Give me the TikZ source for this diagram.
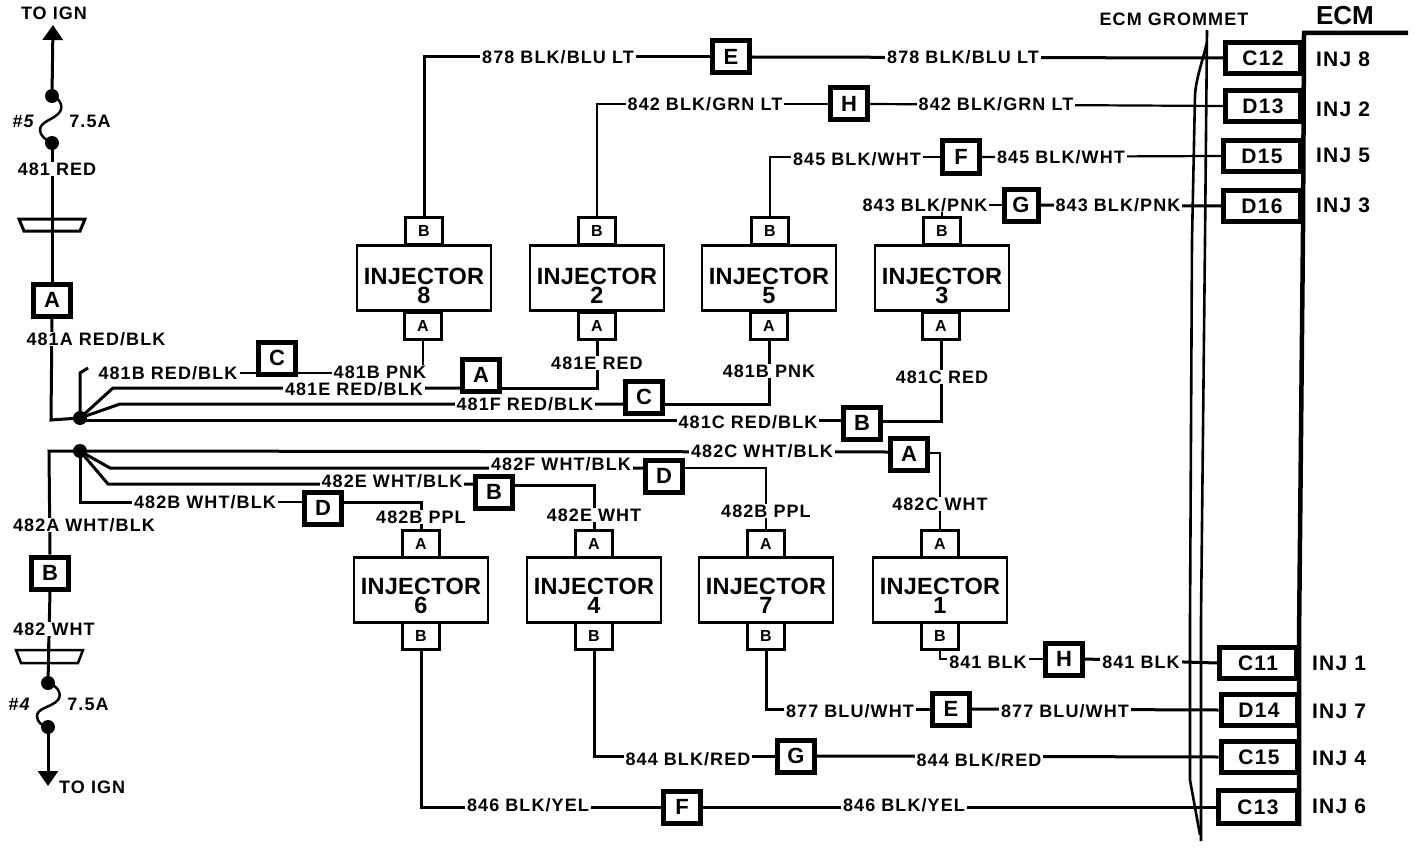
\documentclass[tikz,border=0pt]{standalone}
\usepackage{fontspec}
\usetikzlibrary{arrows.meta,backgrounds}
\newfontfamily\wfam[LetterSpace=6]{Liberation Sans}
\newfontfamily\ifam[LetterSpace=1]{Liberation Sans}
\newfontfamily\wplain{Liberation Sans}
\newcommand{\lblf}{\wfam\bfseries\fontsize{18}{19}\selectfont}
\newcommand{\tagf}{\wfam\bfseries\fontsize{22}{23}\selectfont}
\newcommand{\pinf}{\wfam\bfseries\fontsize{16}{17}\selectfont}
\newcommand{\ecmf}{\wfam\bfseries\fontsize{21}{22}\selectfont}
\newcommand{\injf}{\ifam\bfseries\fontsize{23.5}{24}\selectfont}
\tikzset{
 x=1pt,y=-1pt,
 wire/.style={line width=3pt,line join=miter},
 thinwire/.style={line width=2.2pt},
 lbl/.style={font=\lblf,fill=white,inner xsep=2pt,inner ysep=0.5pt,text height=13pt,text depth=0pt},
 plainlbl/.style={font=\lblf,inner sep=0pt,text height=13pt,text depth=0pt},
 tagbox/.style={draw,line width=5pt,fill=white,minimum width=37pt,minimum height=32pt,inner sep=0pt,font=\tagf},
 pinbox/.style={draw,line width=2.5pt,fill=white,minimum width=37pt,minimum height=27pt,inner sep=0pt,font=\pinf},
 injbox/.style={draw,line width=2.5pt,fill=white,minimum width=134pt,minimum height=65pt,inner sep=0pt},
 injtxt/.style={font=\injf,inner sep=0pt,text height=17pt,text depth=0pt},
 ecmbox/.style={draw,line width=5pt,fill=white,minimum width=75pt,minimum height=31pt,inner sep=0pt,font=\ecmf},
 hubdot/.style={circle,fill=black,minimum size=14pt,inner sep=0pt},
 fusedot/.style={circle,fill=black,minimum size=14pt,inner sep=0pt},
 injlbl/.style={font=\ecmf,inner sep=0pt},
}
\begin{document}
\begin{tikzpicture}
\useasboundingbox (0,0) rectangle (1424,848);

% Connector tags
\node[tagbox] (ta1) at (52,300) {A};
\node[tagbox] (tb1) at (50,573) {B};
\node[tagbox] (tc1) at (277,358) {C};
\node[tagbox] (ta2) at (481,375) {A};
\node[tagbox] (tc2) at (644,397) {C};
\node[tagbox] (tb2) at (862,423) {B};
\node[tagbox] (ta3) at (909,454) {A};
\node[tagbox] (td1) at (664,476) {D};
\node[tagbox] (tb3) at (494,492) {B};
\node[tagbox] (td2) at (323,508) {D};
\node[tagbox] (te1) at (731,57) {E};
\node[tagbox] (th1) at (849,104) {H};
\node[tagbox] (tf1) at (961,157) {F};
\node[tagbox,minimum width=34pt] (tg1) at (1021,205) {G};
\node[tagbox] (th2) at (1064,659) {H};
\node[tagbox] (te2) at (951,709) {E};
\node[tagbox] (tg2) at (796,756) {G};
\node[tagbox] (tf2) at (682,807) {F};

% ECM connector boxes
\node[ecmbox] (c12) at (1263,58) {C12};
\node[ecmbox] (d13) at (1263,106) {D13};
\node[ecmbox,minimum width=77pt] (d15) at (1262,156) {D15};
\node[ecmbox,minimum width=77pt] (d16) at (1262,206) {D16};
\node[ecmbox,minimum width=77pt] (c11) at (1258,663) {C11};
\node[ecmbox,minimum width=76pt] (d14) at (1259,710) {D14};
\node[ecmbox,minimum width=76pt] (c15) at (1259,757) {C15};
\node[ecmbox,minimum width=79pt,minimum height=33pt] (c13) at (1258,807) {C13};

% Injectors, upper row
\node[injbox] (i8) at (424,278) {};
\node[injtxt] (i8t) at (424,276) {INJECTOR};
\node[injtxt] (i8n) at (424,295) {8};
\node[pinbox] (i8b) at (424,231) {B};
\node[pinbox] (i8a) at (423,326) {A};
\node[injbox] (i2) at (597,278) {};
\node[injtxt] (i2t) at (597,276) {INJECTOR};
\node[injtxt] (i2n) at (597,295) {2};
\node[pinbox] (i2b) at (597,231) {B};
\node[pinbox] (i2a) at (597,326) {A};
\node[injbox] (i5) at (769,278) {};
\node[injtxt] (i5t) at (769,276) {INJECTOR};
\node[injtxt] (i5n) at (769,295) {5};
\node[pinbox] (i5b) at (770,231) {B};
\node[pinbox] (i5a) at (769,326) {A};
\node[injbox] (i3) at (942,278) {};
\node[injtxt] (i3t) at (942,276) {INJECTOR};
\node[injtxt] (i3n) at (942,295) {3};
\node[pinbox] (i3b) at (942,231) {B};
\node[pinbox] (i3a) at (941,326) {A};
% Injectors, lower row
\node[injbox] (i6) at (421,590) {};
\node[injtxt] (i6t) at (421,586) {INJECTOR};
\node[injtxt] (i6n) at (421,605) {6};
\node[pinbox] (i6a) at (421,544) {A};
\node[pinbox] (i6b) at (421,636) {B};
\node[injbox] (i4) at (594,590) {};
\node[injtxt] (i4t) at (594,586) {INJECTOR};
\node[injtxt] (i4n) at (594,605) {4};
\node[pinbox] (i4a) at (594,544) {A};
\node[pinbox] (i4b) at (594,636) {B};
\node[injbox] (i7) at (766,590) {};
\node[injtxt] (i7t) at (766,586) {INJECTOR};
\node[injtxt] (i7n) at (766,605) {7};
\node[pinbox] (i7a) at (766,544) {A};
\node[pinbox] (i7b) at (766,636) {B};
\node[injbox] (i1) at (940,590) {};
\node[injtxt] (i1t) at (940,586) {INJECTOR};
\node[injtxt] (i1n) at (940,605) {1};
\node[pinbox] (i1a) at (940,544) {A};
\node[pinbox] (i1b) at (940,636) {B};

% Hubs and fuses
\node[hubdot] (hub1) at (80,418) {};
\node[hubdot] (hub2) at (80,451) {};
\node[fusedot] (f5a) at (52,96) {};
\node[fusedot] (f5b) at (52,143) {};
\node[fusedot] (f4a) at (48,683) {};
\node[fusedot] (f4b) at (48,727) {};
\coordinate (ign1) at (53,25);
\coordinate (ign2) at (48,786);

% Labels on wires
\node[lbl] (l878a) at (558,57) {878 BLK/BLU LT};
\node[lbl] (l878b) at (963,57) {878 BLK/BLU LT};
\node[lbl] (l842a) at (705,104) {842 BLK/GRN LT};
\node[lbl] (l842b) at (996,104) {842 BLK/GRN LT};
\node[lbl] (l845a) at (857,159) {845 BLK/WHT};
\node[lbl] (l845b) at (1061,157) {845 BLK/WHT};
\node[lbl] (l843a) at (925,205) {843 BLK/PNK};
\node[lbl] (l843b) at (1118,205) {843 BLK/PNK};
\node[lbl] (l481) at (57,169) {481 RED};
\node[lbl] (l481a) at (96,339) {481A RED/BLK};
\node[lbl] (l481b) at (168,373) {481B RED/BLK};
\node[lbl] (l481e) at (354,389) {481E RED/BLK};
\node[lbl] (l481bp) at (380,372) {481B PNK};
\node[lbl] (l481er) at (597,363) {481E RED};
\node[lbl] (l481f) at (525,404) {481F RED/BLK};
\node[lbl] (l481bp2) at (769,371) {481B PNK};
\node[lbl] (l481c) at (748,422) {481C RED/BLK};
\node[lbl] (l481cr) at (942,377) {481C RED};
\node[lbl] (l482c) at (762,451) {482C WHT/BLK};
\node[lbl] (l482cw) at (940,504) {482C WHT};
\node[lbl] (l482f) at (561,464) {482F WHT/BLK};
\node[lbl] (l482bp) at (766,511) {482B PPL};
\node[lbl] (l482e) at (392,481) {482E WHT/BLK};
\node[lbl] (l482ew) at (594,515) {482E WHT};
\node[lbl] (l482b) at (205,502) {482B WHT/BLK};
\node[lbl] (l482bp2) at (421,517) {482B PPL};
\node[lbl] (l482a) at (84,525) {482A WHT/BLK};
\node[lbl] (l482) at (54,629) {482 WHT};
\node[lbl] (l841a) at (988,662) {841 BLK};
\node[lbl] (l841b) at (1141,662) {841 BLK};
\node[lbl] (l877a) at (850,711) {877 BLU/WHT};
\node[lbl] (l877b) at (1065,711) {877 BLU/WHT};
\node[lbl] (l844a) at (688,759) {844 BLK/RED};
\node[lbl] (l844b) at (979,760) {844 BLK/RED};
\node[lbl] (l846a) at (528,805) {846 BLK/YEL};
\node[lbl] (l846b) at (904,805) {846 BLK/YEL};

% Free text
\node[plainlbl] (t1) at (54,13) {TO IGN};
\node[plainlbl,anchor=west] (t2) at (59,787) {TO IGN};
\node[plainlbl,font=\lblf\itshape] (t3) at (23,121) {\#5};
\node[plainlbl] (t4) at (90,121) {7.5A};
\node[plainlbl,font=\lblf\itshape] (t5) at (19,704) {\#4};
\node[plainlbl] (t6) at (88,704) {7.5A};
\node[plainlbl] (t7) at (1174,19) {ECM GROMMET};
\node[font=\wplain\bfseries\fontsize{26}{26}\selectfont,inner sep=0pt] (t8) at (1345,16) {ECM};
\node[injlbl] (n8) at (1343,59) {INJ 8};
\node[injlbl] (n2) at (1343,109) {INJ 2};
\node[injlbl] (n5) at (1343,155) {INJ 5};
\node[injlbl] (n3) at (1343,205) {INJ 3};
\node[injlbl] (n1) at (1339,663) {INJ 1};
\node[injlbl] (n7) at (1339,711) {INJ 7};
\node[injlbl] (n4) at (1339,758) {INJ 4};
\node[injlbl] (n6) at (1339,806) {INJ 6};

\begin{pgfonlayer}{background}
% Upper signal wires
\draw[wire] (i8b.north) -- (i8b.north |- te1.west) -- (te1.west);
\draw[wire] (te1.east) -- (c12.west);
\draw[thinwire] (i2b.north) -- (i2b.north |- th1.west) -- (th1.west);
\draw[thinwire] (th1.east) -- (d13.west);
\draw[thinwire] (i5b.north) -- (i5b.north |- tf1.west) -- (tf1.west);
\draw[thinwire] (tf1.east) -- (d15.west);
\draw[thinwire] (i3b.north) -- (i3b.north |- tg1.west) -- (tg1.west);
\draw[wire] (tg1.east) -- (d16.west);
% Lower signal wires
\draw[thinwire] (i1b.south) -- (i1b.south |- th2.west) -- (th2.west);
\draw[wire] (th2.east) -- (c11.west);
\draw[wire] (i7b.south) -- (i7b.south |- te2.west) -- (te2.west);
\draw[wire] (te2.east) -- (d14.west);
\draw[wire] (i4b.south) -- (i4b.south |- tg2.west) -- (tg2.west);
\draw[wire] (tg2.east) -- (c15.west);
\draw[wire] (i6b.south) -- (i6b.south |- tf2.west) -- (tf2.west);
\draw[wire] (tf2.east) -- (c13.west);
% Power feed 481
\draw[wire] (f5b.center) -- (ta1.north);
\draw[wire] (ta1.south) -- (51,420) -- (hub1.center);
\draw[wire,-{Triangle[length=15pt,width=20pt]}] (f5a.center) -- (ign1);
\draw[line width=2.5pt] (f5a.center) .. controls (60,98) and (65,108) .. (58,114) .. controls (52,120) and (40,122) .. (40,130) .. controls (40,136) and (46,140) .. (f5b.center);
\draw[wire] (hub1.center) -- (hub1.center |- l481b.west) -- (88,368);
\draw[thinwire] (l481b.east) -- (l481b.east -| tc1.west);
\draw[thinwire] (tc1.east |- l481b.east) -- (i8a.south |- l481b.east) -- (i8a.south);
\draw[wire] (hub1.center) -- (113,388) -- (ta2.west |- 0,388);
\draw[wire] (ta2.east |- 0,388) -- (i2a.south |- 0,388) -- (i2a.south);
\draw[wire] (hub1.center) -- (120,404) -- (tc2.west |- 0,404);
\draw[wire] (tc2.east |- 0,404) -- (i5a.south |- 0,404) -- (i5a.south);
\draw[wire] (hub1.center) -- (80,420) -- (tb2.west |- 0,420);
\draw[wire] (tb2.east |- 0,421) -- (i3a.south |- 0,421) -- (i3a.south);
% Power feed 482
\draw[wire] (hub2.center) -- (49,451) -- (tb1.north);
\draw[wire] (tb1.south) -- (f4a.center);
\draw[wire,-{Triangle[length=15pt,width=20pt]}] (f4b.center) -- (ign2);
\draw[line width=2.5pt] (f4a.center) .. controls (56,685) and (63,693) .. (58,700) .. controls (52,707) and (37,708) .. (37,716) .. controls (37,722) and (42,726) .. (f4b.center);
\draw[wire] (hub2.center) -- (ta3.west |- 0,452);
\draw[thinwire] (ta3.east |- 0,453) -- (i1a.north |- 0,453) -- (i1a.north);
\draw[wire] (hub2.center) -- (110,468) -- (td1.west |- 0,468);
\draw[thinwire] (td1.east |- 0,468) -- (i7a.north |- 0,468) -- (i7a.north);
\draw[wire] (hub2.center) -- (108,484) -- (tb3.west |- 0,484);
\draw[wire] (tb3.east |- 0,485) -- (i4a.north |- 0,485) -- (i4a.north);
\draw[wire] (hub2.center) -- (hub2.center |- l482b.west) -- (l482b.west);
\draw[thinwire] (l482b.east) -- (td2.west |- l482b.east);
\draw[wire] (td2.east |- l482b.east) -- (i6a.north |- l482b.east) -- (i6a.north);
\end{pgfonlayer}

% Splice connectors
\draw[line width=3pt] (19,219) -- (85,219) -- (80,231) -- (24,231) -- cycle;
\draw[line width=2.5pt] (16,650) -- (83,650) -- (78,663) -- (21,663) -- cycle;
\draw[wire] (52,212) -- (52,238);
\draw[wire] (48,643) -- (48,670);

% ECM frame and grommet
\draw[line width=4.5pt] (1408,33) -- (1304,33) -- (1303,230) -- (1299,640) -- (1299,826);
\draw[line width=2.6pt] (1207,30) -- (1205,240) -- (1201,620) -- (1201,841);
\draw[line width=2.6pt] (1207,42) .. controls (1203,60) and (1196,78) .. (1195,95) -- (1192,240) -- (1190,620) -- (1190,780) -- (1200,835);
\end{tikzpicture}
\end{document}
